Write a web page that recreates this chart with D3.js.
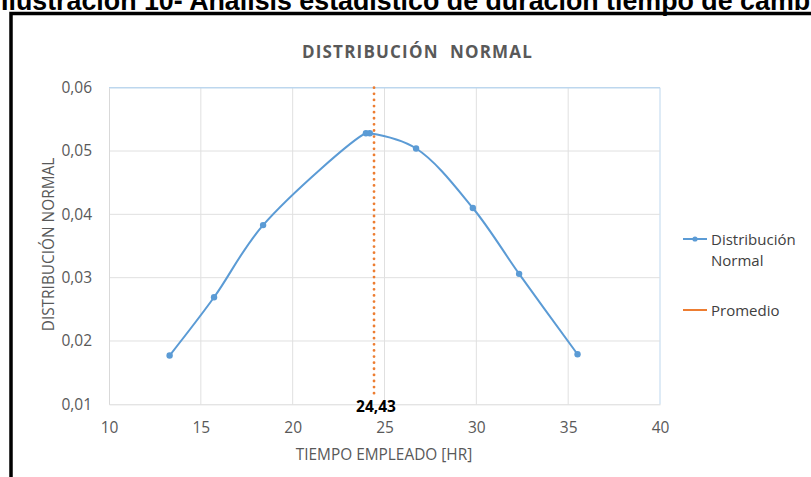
<!DOCTYPE html>
<html><head><meta charset="utf-8">
<script src="https://cdn.jsdelivr.net/npm/d3@7"></script>
<style>
html,body{margin:0;padding:0;background:#fff;overflow:hidden;}
svg{display:block;}
</style></head>
<body>
<svg id="chart" width="811" height="477"></svg>
<script>
// ---- data ----
const xValues = [13.3, 15.72, 18.39, 23.99, 24.2, 26.72, 29.81, 32.33, 35.51];
const yValues = [0.0177, 0.0269, 0.0383, 0.0528, 0.0528, 0.0504, 0.0410, 0.0306, 0.0179];
const promedio = 24.43;
const xTicks = [10, 15, 20, 25, 30, 35, 40];
const yTicks = [0.01, 0.02, 0.03, 0.04, 0.05, 0.06];
const heading = "Ilustración 10- Análisis estadístico de duración tiempo de cambio";
const chartTitle = "DISTRIBUCIÓN  NORMAL";
const xTitle = "TIEMPO EMPLEADO [HR]";
const yTitle = "DISTRIBUCIÓN NORMAL";
const legendItems = [["Distribución", "Normal"], ["Promedio"]];

const loc = d3.formatLocale({decimal: ",", thousands: ".", grouping: [3], currency: ["", "€"]});
const fmt2 = loc.format(".2f");

const svg = d3.select("#chart");
const font = "'Open Sans', sans-serif";
const gray = "#595959";

const x = d3.scaleLinear().domain([10, 40]).range([109, 660]);
const y = d3.scaleLinear().domain([0.01, 0.06]).range([404.3, 87.7]);

// heading (clipped at top, as in the reference)
svg.append("text").attr("x", 1).attr("y", 9.5)
  .attr("font-family", "'Liberation Sans', Arial, sans-serif").attr("font-weight", "bold")
  .attr("font-size", 26.8).attr("fill", "#000").text(heading);

// frame
svg.append("path").attr("d", "M11,480 L11,13.5 L815,13.5")
  .attr("fill", "none").attr("stroke", "#000").attr("stroke-width", 3.5);

// gridlines
const grid = svg.append("g");
grid.selectAll(".gx").data(xTicks.slice(1)).join("line")
  .attr("x1", d => x(d)).attr("x2", d => x(d)).attr("y1", y(0.06)).attr("y2", y(0.01))
  .attr("stroke", d => d === 40 ? "#bdd7ee" : "#e0e0e0").attr("stroke-width", 1);
grid.selectAll(".gy").data(yTicks.slice(1)).join("line")
  .attr("x1", x(10)).attr("x2", x(40)).attr("y1", d => y(d)).attr("y2", d => y(d))
  .attr("stroke", d => d === 0.06 ? "#bdd7ee" : "#e0e0e0").attr("stroke-width", d => d === 0.06 ? 1.5 : 1);

// axes
const xAxis = svg.append("g").attr("transform", `translate(0,${y(0.01)})`)
  .call(d3.axisBottom(x).tickValues(xTicks).tickSize(0).tickPadding(0).tickFormat(d3.format("d")));
xAxis.select(".domain").attr("stroke", "#d9d9d9");
xAxis.selectAll("text").attr("font-family", font).attr("font-size", 15.5).attr("fill", gray)
  .attr("dy", null).attr("y", 29);

const yAxis = svg.append("g").attr("transform", `translate(${x(10)},0)`)
  .call(d3.axisLeft(y).tickValues(yTicks).tickSize(0).tickPadding(17).tickFormat(fmt2));
yAxis.select(".domain").attr("stroke", "#d9d9d9");
yAxis.selectAll("text").attr("font-family", font).attr("font-size", 15.5).attr("fill", gray);

// titles
svg.append("text").attr("x", 417.5).attr("y", 58).attr("text-anchor", "middle")
  .attr("font-family", font).attr("font-weight", "bold").attr("font-size", 17)
  .attr("letter-spacing", 1.2).attr("fill", gray).attr("xml:space", "preserve")
  .style("white-space", "pre").text(chartTitle);
svg.append("text").attr("x", 384).attr("y", 459.5).attr("text-anchor", "middle")
  .attr("font-family", font).attr("font-size", 15.4).attr("fill", gray).text(xTitle);
svg.append("text").attr("transform", "translate(53.5,244.5) rotate(-90)").attr("text-anchor", "middle")
  .attr("font-family", font).attr("font-size", 15.4).attr("fill", gray).text(yTitle);

// promedio line
svg.append("line").attr("x1", x(promedio)).attr("x2", x(promedio))
  .attr("y1", y(0.06)).attr("y2", y(0.01) - 11)
  .attr("stroke", "#ed7d31").attr("stroke-width", 2.8).attr("stroke-linecap", "round")
  .attr("stroke-dasharray", "0.01 6.1");
svg.append("text").attr("x", x(promedio) + 2).attr("y", 411.5).attr("text-anchor", "middle")
  .attr("font-family", font).attr("font-weight", "bold").attr("font-size", 15.5)
  .attr("fill", "#000").text(fmt2(promedio));

// series
const pts = xValues.map((v, i) => [v, yValues[i]]);
const line = d3.line().x(d => x(d[0])).y(d => y(d[1])).curve(d3.curveCatmullRom.alpha(0.5));
svg.append("path").attr("d", line(pts)).attr("fill", "none")
  .attr("stroke", "#5b9bd5").attr("stroke-width", 2);
svg.selectAll(".pt").data(pts).join("circle")
  .attr("cx", d => x(d[0])).attr("cy", d => y(d[1])).attr("r", 3.2).attr("fill", "#5b9bd5");

// legend
const lg = svg.append("g");
lg.append("line").attr("x1", 683).attr("x2", 707).attr("y1", 239).attr("y2", 239)
  .attr("stroke", "#5b9bd5").attr("stroke-width", 2);
lg.append("circle").attr("cx", 695).attr("cy", 239).attr("r", 2.6).attr("fill", "#5b9bd5");
const t1 = lg.append("text").attr("font-family", font).attr("font-size", 15).attr("fill", "#404040");
legendItems[0].forEach((s, i) => t1.append("tspan").attr("x", 711).attr("y", 244.5 + i * 21).text(s));
lg.append("line").attr("x1", 683).attr("x2", 707).attr("y1", 310).attr("y2", 310)
  .attr("stroke", "#ed7d31").attr("stroke-width", 2);
lg.append("text").attr("x", 711).attr("y", 315.5).attr("font-family", font).attr("font-size", 15)
  .attr("fill", "#404040").text(legendItems[1][0]);
</script>
</body></html>
